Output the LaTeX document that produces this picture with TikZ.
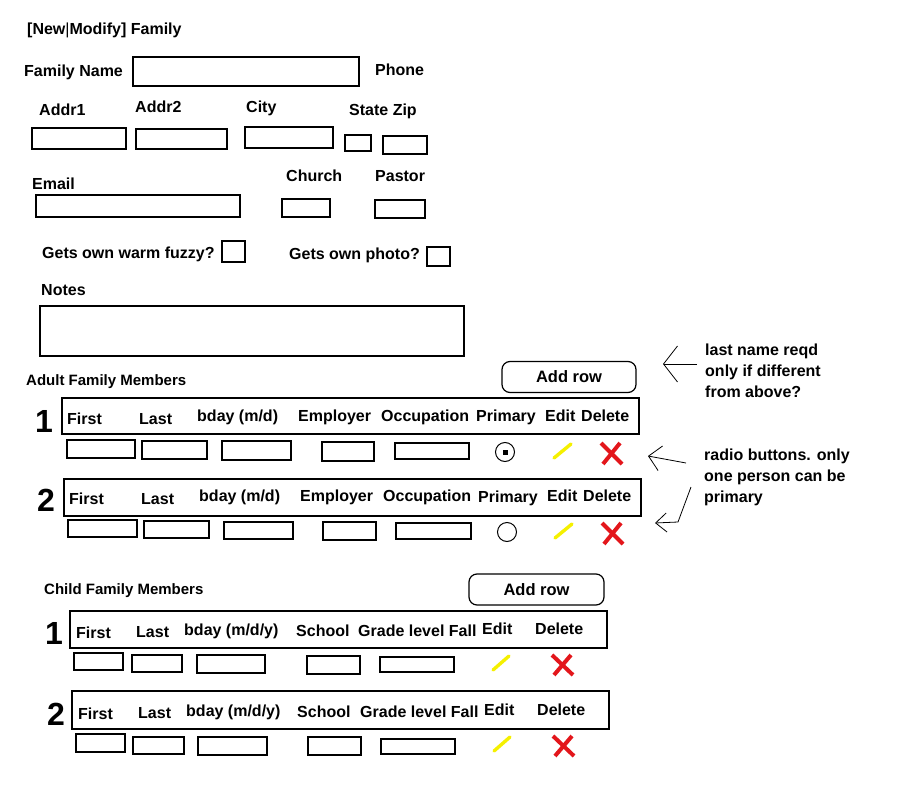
\documentclass[tikz,border=0pt]{standalone}
\usepackage{fontspec}
\setmainfont{Liberation Sans}
\definecolor{edityellow}{HTML}{F5F000}
\definecolor{delred}{HTML}{E3161B}
\usetikzlibrary{arrows.meta,positioning}

\begin{document}
\begin{tikzpicture}[
  x=1pt, y=-1pt,
  lbl/.style={anchor=base west, inner sep=0pt, font=\fontsize{16}{18}\selectfont\bfseries},
  rownum/.style={anchor=base west, inner sep=0pt, font=\fontsize{32}{36}\selectfont\bfseries},
  field/.style={draw, line width=1.2pt},
  btn/.style={draw, line width=1.2pt, rounded corners=8pt, minimum width=134pt,
    minimum height=31pt, inner sep=0pt, font=\fontsize{16.5}{18}\selectfont\bfseries},
  radio/.style={draw, line width=1pt, circle, minimum size=19pt, inner sep=0pt},
  editmark/.style={draw=edityellow, line width=3.4pt, line cap=round},
  delmark/.style={draw=delred, line width=4pt},
  hint/.style={line width=0.8pt}
]
  \useasboundingbox (0,0) rectangle (900,800);

  % family details
  \node[lbl] (title) at (27,35) {[New{\mdseries|}Modify] Family};
  \node[lbl] (famname) at (24,77) {Family Name};
  \node[lbl] (phone) at (375,75) {Phone};
  \node[lbl] (addr1) at (39,115) {Addr1};
  \node[lbl] (addr2) at (135,113) {Addr2};
  \node[lbl] (city) at (246,113) {City};
  \node[lbl] (statezip) at (349,115) {State Zip};
  \node[lbl] (email) at (32,189) {Email};
  \node[lbl] (church) at (286,181) {Church};
  \node[lbl] (pastor) at (375,181) {Pastor};
  \node[lbl] (fuzzy) at (42,258) {Gets own warm fuzzy?};
  \node[lbl] (photo) at (289,259) {Gets own photo?};
  \node[lbl] (notes) at (41,295) {Notes};

  \draw[field] (133,57) rectangle (359,86)
    (32,128) rectangle (126,149) (136,129) rectangle (227,149)
    (245,127) rectangle (333,148) (345,135) rectangle (371,151)
    (383,136) rectangle (427,154)
    (36,195) rectangle (240,217) (282,199) rectangle (330,217)
    (375,200) rectangle (425,218)
    (222,241) rectangle (245,262) (427,247) rectangle (450,266)
    (40,306) rectangle (464,356);

  % adult family members
  \node[lbl, font=\fontsize{15}{18}\selectfont\bfseries] (adults) at (26,385) {Adult Family Members};
  \node[btn] (addadult) at (569,377) {Add row};

  \node[rownum] (aone) at (35,432) {1};
  \draw[field] (62,398) rectangle (639,434);
  \node[lbl] (afirst) at (67,424) {First};
  \node[lbl] (alast) at (139,424) {Last};
  \node[lbl] (abday) at (197,421) {bday (m/d)};
  \node[lbl] (aemp) at (298,421) {Employer};
  \node[lbl] (aocc) at (381,421) {Occupation};
  \node[lbl] (aprim) at (476,421) {Primary};
  \node[lbl] (aedit) at (545,421) {Edit};
  \node[lbl] (adel) at (581,421) {Delete};
  \draw[field] (67,440) rectangle (135,458) (142,441) rectangle (207,459)
    (222,441) rectangle (291,460) (322,442) rectangle (374,461)
    (395,443) rectangle (469,459);
  \node[radio] (aradio) at (505,452) {};
  \fill (aradio.center) +(-2.5,-2.5) rectangle +(2.5,2.5);
  \draw[editmark] (554,458) -- (571,444);
  \draw[delmark] (601,443) -- (622,464) (620,443) -- (603,464);

  \node[rownum] (atwo) at (37,511) {2};
  \draw[field] (64,479) rectangle (641,516);
  \node[lbl] (afirstb) at (69,504) {First};
  \node[lbl] (alastb) at (141,504) {Last};
  \node[lbl] (abdayb) at (199,501) {bday (m/d)};
  \node[lbl] (aempb) at (300,501) {Employer};
  \node[lbl] (aoccb) at (383,501) {Occupation};
  \node[lbl] (aprimb) at (478,502) {Primary};
  \node[lbl] (aeditb) at (547,501) {Edit};
  \node[lbl] (adelb) at (583,501) {Delete};
  \draw[field] (68,520) rectangle (137,537) (144,521) rectangle (209,538)
    (224,522) rectangle (293,539) (323,522) rectangle (376,540)
    (396,523) rectangle (471,539);
  \node[radio] (aradiob) at (507,532) {};
  \draw[editmark] (555,538) -- (572,524);
  \draw[delmark] (602,523) -- (623,544) (621,523) -- (604,544);

  % hints on the right
  \node[lbl] (hinta) at (705,355) {last name reqd};
  \node[lbl] (hintb) at (705,376) {only if different};
  \node[lbl] (hintc) at (705,397) {from above?};
  \node[lbl] (hintd) at (704,460) {radio buttons. only};
  \node[lbl] (hinte) at (704,481) {one person can be};
  \node[lbl] (hintf) at (704,502) {primary};

  \coordinate (tipa) at (663,364);
  \coordinate (taila) at (697,364);
  \coordinate (tipb) at (648,456);
  \coordinate (tailb) at (686,463);
  \coordinate (tipc) at (655,523);
  \coordinate (bendc) at (678,522);
  \coordinate (tailc) at (691,487);
  \draw[hint, -{Straight Barb[length=14pt, width=36pt, line width=0.8pt]}] (taila) -- (tipa);
  \draw[hint, -{Straight Barb[length=12pt, width=25pt, line width=0.8pt]}] (tailb) -- (tipb);
  \draw[hint, -{Straight Barb[length=11pt, width=19pt, line width=0.8pt]}] (tailc) -- (bendc) -- (tipc);

  % child family members
  \node[lbl, font=\fontsize{15}{18}\selectfont\bfseries] (children) at (44,594) {Child Family Members};
  \node[btn, minimum width=135pt] (addchild) at (536.5,589.5) {Add row};

  \node[rownum] (cone) at (45,644) {1};
  \draw[field] (70,611) rectangle (607,648);
  \node[lbl] (cfirst) at (76,638) {First};
  \node[lbl] (clast) at (136,637) {Last};
  \node[lbl] (cbday) at (184,635) {bday (m/d/y)};
  \node[lbl] (cschool) at (296,636) {School};
  \node[lbl] (cgrade) at (358,636) {Grade level Fall};
  \node[lbl] (cedit) at (482,634) {Edit};
  \node[lbl] (cdel) at (535,634) {Delete};
  \draw[field] (74,653) rectangle (123,670) (132,655) rectangle (182,672)
    (197,655) rectangle (265,673) (307,656) rectangle (360,674)
    (380,657) rectangle (454,672);
  \draw[editmark] (493,670) -- (509,656);
  \draw[delmark] (552,655) -- (573,675) (571,655) -- (554,675);

  \node[rownum] (ctwo) at (47,725) {2};
  \draw[field] (72,691) rectangle (609,729);
  \node[lbl] (cfirstb) at (78,719) {First};
  \node[lbl] (clastb) at (138,718) {Last};
  \node[lbl] (cbdayb) at (186,716) {bday (m/d/y)};
  \node[lbl] (cschoolb) at (297,717) {School};
  \node[lbl] (cgradeb) at (360,717) {Grade level Fall};
  \node[lbl] (ceditb) at (484,715) {Edit};
  \node[lbl] (cdelb) at (537,715) {Delete};
  \draw[field] (76,734) rectangle (125,752) (133,737) rectangle (184,754)
    (198,737) rectangle (267,755) (308,737) rectangle (361,755)
    (381,739) rectangle (455,754);
  \draw[editmark] (494,751) -- (510,737);
  \draw[delmark] (553,736) -- (574,756) (572,736) -- (555,756);
\end{tikzpicture}
\end{document}
